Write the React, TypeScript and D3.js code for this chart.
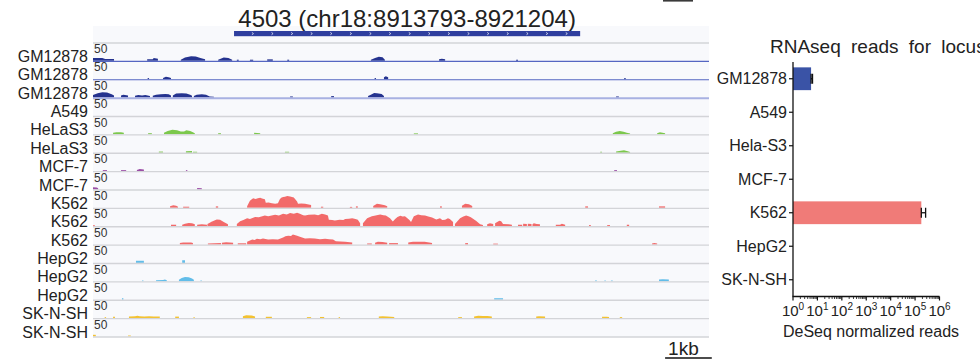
import React from "react";
import * as d3 from "d3";

type Pt = [number, number];
type Peak = Pt[];

// ---- genome browser window -------------------------------------------------
const windowStart = 8910773; // bp
const windowEnd = 8923963; // bp
const geneName = "4503";
const geneChrom = "chr18";
const geneStart = 8913793;
const geneEnd = 8921204;
const trackMax = 50;
const scaleBarKb = 1;
const scaleBarStartKb = 12.25;

// coverage peaks: [kb from window start, signal]
const gm12878Rep1: Peak[] = [
  [[0, 8], [0.2, 8], [0.26, 5], [0.45, 5]],
  [[1.16, 4], [1.28, 4], [1.3, 8], [1.39, 6]],
  [[1.88, 3], [1.97, 9], [2.05, 11], [2.1, 13], [2.2, 12], [2.3, 8], [2.4, 4]],
  [[2.68, 3], [2.8, 9], [2.9, 8], [2.98, 3]],
  [[3.08, 3], [3.12, 3]],
  [[3.36, 3], [3.43, 3]],
  [[3.73, 4], [3.85, 4]],
  [[4.16, 3], [4.2, 3]],
  [[5.95, 3], [6.04, 8], [6.12, 11], [6.2, 10], [6.25, 3]],
  [[7.41, 4], [7.47, 6], [7.54, 4]],
  [[9.06, 3], [9.1, 3]],
];
const gm12878Rep2: Peak[] = [
  [[1.17, 3], [1.2, 3]],
  [[1.5, 3], [1.56, 7], [1.62, 5], [1.67, 3]],
  [[6.03, 3], [6.06, 3]],
  [[6.23, 5], [6.27, 8], [6.32, 5]],
  [[11.37, 2.5], [11.41, 2.5]],
];
const gm12878Rep3: Peak[] = [
  [[0, 7], [0.1, 12], [0.2, 15], [0.3, 14], [0.4, 9], [0.45, 6]],
  [[0.6, 6], [0.65, 8], [0.75, 6]],
  [[0.9, 5], [0.97, 7], [1.05, 6], [1.12, 7], [1.22, 4]],
  [[1.28, 5], [1.35, 8], [1.45, 9], [1.55, 10], [1.62, 9], [1.67, 6]],
  [[1.71, 6], [1.78, 11], [1.9, 12], [2.0, 11], [2.08, 8], [2.12, 5]],
  [[2.16, 4], [2.22, 8], [2.33, 9.5], [2.42, 8], [2.5, 3], [2.59, 2]],
  [[4.22, 3], [4.28, 3]],
  [[5.1, 4], [5.16, 4]],
  [[5.89, 4], [5.95, 8], [6.02, 13], [6.08, 12], [6.18, 10], [6.23, 4]],
  [[11.2, 3], [11.26, 3]],
];
const a549Rep1: Peak[] = [];
const helaRep1: Peak[] = [
  [[0.43, 4], [0.5, 6], [0.6, 6], [0.66, 4]],
  [[1.18, 3], [1.26, 3]],
  [[1.52, 4], [1.6, 9], [1.7, 12.5], [1.8, 11], [1.88, 8], [1.95, 8], [2.0, 11], [2.08, 9], [2.14, 6], [2.18, 3]],
  [[2.68, 3], [2.74, 3]],
  [[3.45, 4], [3.58, 3]],
  [[6.87, 2.5], [6.96, 2.5]],
  [[11.13, 3], [11.2, 7], [11.28, 9], [11.36, 7], [11.43, 4], [11.5, 2]],
  [[12.08, 3], [12.14, 6], [12.25, 3]],
];
const helaRep2: Peak[] = [
  [[1.41, 3], [1.5, 3]],
  [[1.99, 4], [2.12, 4.5]],
  [[2.14, 2.5], [2.23, 2.5]],
  [[4.11, 2.5], [4.2, 2.5]],
  [[10.86, 2.5], [10.9, 2.5]],
  [[11.2, 3], [11.3, 5], [11.37, 6.5], [11.45, 4], [11.5, 2]],
];
const mcf7Rep1: Peak[] = [
  [[0.21, 2.5], [0.3, 2.5]],
  [[0.6, 2.5], [0.71, 2.5]],
  [[0.94, 3], [1.0, 5.5], [1.09, 4]],
  [[1.99, 2.5], [2.02, 2.5]],
  [[11.16, 2.5], [11.22, 2.5]],
];
const mcf7Rep2: Peak[] = [
  [[0, 6], [0.08, 5], [0.11, 3]],
  [[2.23, 4], [2.33, 3]],
];
const k562Rep1: Peak[] = [
  [[1.65, 4], [1.72, 7], [1.78, 6], [1.82, 3]],
  [[1.93, 3], [2.06, 3]],
  [[2.63, 4], [2.68, 4]],
  [[3.3, 4], [3.36, 20], [3.4, 24], [3.43, 27], [3.48, 25], [3.53, 27], [3.58, 28], [3.62, 26], [3.68, 24],
   [3.7, 14], [3.76, 15], [3.83, 13], [3.9, 11], [3.96, 13], [4.0, 24], [4.03, 28], [4.07, 30], [4.11, 31],
   [4.16, 33], [4.22, 32], [4.3, 29], [4.37, 18], [4.39, 11], [4.46, 12], [4.54, 11], [4.67, 8]],
  [[4.88, 3], [4.93, 3]],
  [[5.5, 2.5], [5.55, 2.5]],
  [[5.63, 4], [5.67, 4]],
  [[6.0, 5], [6.08, 11], [6.15, 10], [6.25, 7], [6.3, 4]],
  [[7.43, 4], [7.47, 4]],
  [[7.9, 6], [7.97, 11], [8.05, 10], [8.12, 5]],
  [[10.54, 4], [10.6, 4]],
  [[12.12, 4], [12.25, 4]],
];
const k562Rep2: Peak[] = [
  [[0, 2.5], [0.04, 2.5]],
  [[1.67, 4], [1.78, 4]],
  [[1.91, 4], [1.97, 7], [2.05, 9], [2.12, 8], [2.18, 5]],
  [[2.23, 4], [2.33, 5], [2.44, 4]],
  [[2.45, 6], [2.55, 13], [2.65, 19], [2.72, 18], [2.8, 12], [2.89, 5]],
  [[3.08, 6], [3.15, 14], [3.22, 17], [3.3, 22], [3.36, 20], [3.47, 26], [3.55, 25], [3.68, 30], [3.75, 28],
   [3.9, 32], [3.98, 30], [4.07, 35], [4.15, 33], [4.22, 37], [4.3, 35], [4.37, 38], [4.43, 35], [4.5, 31],
   [4.54, 30], [4.62, 32], [4.75, 33], [4.82, 31], [4.9, 35], [4.97, 33], [5.03, 30], [5.05, 18], [5.12, 17],
   [5.18, 16], [5.28, 18], [5.36, 17], [5.4, 20], [5.48, 21], [5.55, 22], [5.62, 20], [5.67, 18], [5.72, 8]],
  [[5.78, 8], [5.87, 22], [5.97, 28], [6.05, 30], [6.15, 33], [6.22, 31], [6.27, 30], [6.36, 22], [6.42, 13],
   [6.47, 20], [6.52, 26], [6.58, 29], [6.63, 27], [6.68, 28], [6.77, 18], [6.81, 12], [6.87, 28], [6.96, 33],
   [7.03, 31], [7.11, 30], [7.18, 27], [7.26, 24], [7.35, 19], [7.43, 22], [7.48, 17], [7.54, 18], [7.6, 22],
   [7.64, 20], [7.71, 12]],
  [[7.75, 6], [7.86, 22], [7.93, 27], [7.99, 30], [8.04, 28], [8.09, 25], [8.2, 15], [8.29, 5], [8.35, 3]],
  [[8.44, 5], [8.5, 8], [8.57, 6]],
  [[8.61, 8], [8.7, 15], [8.74, 14], [8.78, 6], [8.9, 5], [8.97, 4]],
  [[9.1, 4], [9.19, 4]],
  [[9.21, 7], [9.29, 6]],
  [[9.31, 7], [9.39, 6]],
  [[9.41, 5], [9.44, 8], [9.5, 6], [9.57, 5]],
  [[9.91, 4], [10.0, 4], [10.04, 7], [10.11, 4]],
  [[10.62, 3], [10.66, 3]],
  [[11.01, 3], [11.07, 3]],
  [[11.43, 4], [11.48, 4]],
];
const k562Rep3: Peak[] = [
  [[1.86, 4], [1.93, 6], [2.1, 6], [2.14, 4]],
  [[2.46, 3], [2.74, 4]],
  [[2.76, 5], [2.85, 6.5], [3.0, 5]],
  [[3.1, 3.5], [3.28, 3.5]],
  [[3.3, 8], [3.41, 14], [3.46, 13], [3.51, 16], [3.58, 15], [3.64, 17], [3.75, 14], [3.85, 15], [3.96, 14],
   [4.07, 20], [4.12, 23], [4.18, 25], [4.24, 24], [4.28, 28], [4.37, 25], [4.43, 22], [4.54, 17], [4.64, 18],
   [4.75, 17], [4.86, 15], [4.97, 16], [5.06, 15], [5.14, 14], [5.2, 9], [5.4, 8], [5.55, 6]],
  [[5.87, 3], [5.97, 3]],
  [[6.04, 5], [6.1, 7.5], [6.2, 7], [6.3, 5]],
  [[6.34, 4], [6.53, 4]],
  [[6.75, 6], [6.85, 8], [6.95, 7.5], [7.1, 8], [7.2, 6], [7.26, 4]],
  [[7.97, 4], [8.03, 4]],
  [[8.57, 2.5], [8.67, 2.5]],
  [[11.97, 3], [12.02, 4.5], [12.08, 3]],
];
const hepg2Rep1: Peak[] = [
  [[0.92, 6], [1.09, 6]],
  [[1.91, 7.5], [1.97, 7.5]],
];
const hepg2Rep2: Peak[] = [
  [[1.05, 2.5], [1.08, 2.5]],
  [[1.35, 3], [1.5, 3.5], [1.54, 5], [1.58, 3]],
  [[1.84, 4], [1.9, 9], [1.97, 12], [2.05, 11], [2.12, 8], [2.16, 4]],
  [[2.3, 2.5], [2.33, 2.5]],
  [[10.75, 2.5], [10.79, 2.5]],
  [[10.95, 2.5], [10.98, 2.5]],
  [[11.09, 2], [11.13, 2]],
  [[12.12, 5], [12.2, 6], [12.33, 5]],
];
const hepg2Rep3: Peak[] = [
  [[0.62, 4], [0.65, 4]],
  [[8.59, 4], [8.78, 4]],
];
const sknshRep1: Peak[] = [
  [[0.25, 2.5], [0.28, 2.5]],
  [[0.43, 3.5], [0.47, 3.5]],
  [[0.77, 4], [0.9, 5], [0.95, 6.5], [1.0, 5], [1.1, 4.5], [1.2, 5], [1.3, 4], [1.43, 4]],
  [[1.76, 4], [1.84, 4]],
  [[2.15, 2.5], [2.18, 2.5]],
  [[3.21, 5], [3.28, 7.5], [3.4, 7], [3.47, 4]],
  [[3.7, 3.5], [3.83, 3.5]],
  [[4.58, 2.5], [4.67, 2.5]],
  [[4.86, 3], [4.95, 3]],
  [[5.26, 2.5], [5.29, 2.5]],
  [[6.12, 4], [6.2, 5], [6.3, 4.5], [6.45, 3]],
  [[7.82, 2.5], [7.9, 2.5]],
  [[8.16, 4], [8.25, 6.5], [8.35, 6], [8.45, 6], [8.54, 4]],
  [[9.49, 4], [9.55, 5], [9.68, 4]],
  [[10.9, 3.5], [11.0, 3.5], [11.05, 3]],
  [[11.28, 2.5], [11.33, 2.5]],
];
const sknshRep2: Peak[] = [
  [[0, 4.5], [0.06, 4.5]],
  [[0.75, 2.5], [0.81, 2.5]],
];

const trackLabels = [
  "GM12878", "GM12878", "GM12878", "A549", "HeLaS3", "HeLaS3", "MCF-7", "MCF-7",
  "K562", "K562", "K562", "HepG2", "HepG2", "HepG2", "SK-N-SH", "SK-N-SH",
];
const trackData: Peak[][] = [
  gm12878Rep1, gm12878Rep2, gm12878Rep3, a549Rep1, helaRep1, helaRep2, mcf7Rep1, mcf7Rep2,
  k562Rep1, k562Rep2, k562Rep3, hepg2Rep1, hepg2Rep2, hepg2Rep3, sknshRep1, sknshRep2,
];

// ---- RNA-seq bar panel ------------------------------------------------------
const rnaCells = ["GM12878", "A549", "Hela-S3", "MCF-7", "K562", "HepG2", "SK-N-SH"];
const rnaMean = [5.5, 0, 0, 0, 180000, 0, 0];
const rnaSd = [0.8, 0, 0, 0, 90000, 0, 0];
const rnaTickExponents = [0, 1, 2, 3, 4, 5, 6];

const colorFor = (label: string): string => {
  if (label.startsWith("GM")) return "#25338f";
  if (label.startsWith("HeLa")) return "#7cc84c";
  if (label.startsWith("MCF")) return "#9b4ea6";
  if (label.startsWith("K562")) return "#f26a6a";
  if (label.startsWith("HepG2")) return "#62bde9";
  return "#f3c232";
};

const FONT = "'Liberation Sans', Arial, Helvetica, sans-serif";

export default function App() {
  // browser panel geometry
  const left = 93;
  const right = 709;
  const tracksTop = 43;
  const tracksBottom = 337;
  const trackH = (tracksBottom - tracksTop) / trackLabels.length;

  const windowKb = (windowEnd - windowStart) / 1000;
  const x = d3.scaleLinear().domain([0, windowKb]).range([left, right]);
  const toKb = (bp: number) => (bp - windowStart) / 1000;

  const gx0 = x(toKb(geneStart));
  const gx1 = x(toKb(geneEnd));
  const chevronStep = 0.42;
  const chevrons = d3.range(toKb(geneStart) + chevronStep * 0.95, toKb(geneEnd) - 0.1, chevronStep);

  // bar panel geometry
  const xr = d3.scaleLog().domain([1, 1e6]).range([793, 939.5]);
  const yr = d3.scaleBand<string>().domain(rnaCells).range([62, 296.5]).paddingInner(0.32).paddingOuter(0.16);
  const axisY = 296.5;
  const minorTicks: number[] = [];
  for (let k = 0; k < 6; k++) for (let m = 2; m <= 9; m++) minorTicks.push(m * Math.pow(10, k));

  return (
    <svg
      width={980}
      height={360}
      style={{ position: "fixed", left: 0, top: 0, background: "#ffffff" }}
      fontFamily={FONT}
    >
      {/* browser panel */}
      <rect x={left} y={26} width={right - left} height={tracksBottom - 26} fill="#f8f9fc" />
      <rect x={663} y={0} width={30} height={1.6} fill="#3a3a3a" />
      <text x={(gx0 + gx1) / 2} y={27} fontSize={24} textAnchor="middle" fill="#222">
        {`${geneName} (${geneChrom}:${geneStart}-${geneEnd})`}
      </text>
      <rect x={gx0} y={31} width={gx1 - gx0} height={5.2} fill="#2f3f9f" />
      {chevrons.map((c, i) => (
        <path
          key={i}
          d={`M${x(c) - 0.8},${32.4} L${x(c) + 0.8},${33.6} L${x(c) - 0.8},${34.8}`}
          stroke="#ffffff"
          strokeWidth={0.7}
          fill="none"
        />
      ))}
      <line x1={left} x2={right} y1={tracksTop} y2={tracksTop} stroke="#d3d4d8" strokeWidth={1.3} />

      {trackLabels.map((label, i) => {
        const top = tracksTop + i * trackH;
        const bottom = top + trackH;
        const y = d3.scaleLinear().domain([0, trackMax]).range([bottom - 0.6, top]);
        const area = d3
          .area<Pt>()
          .x((d) => x(d[0]))
          .y0(bottom - 0.6)
          .y1((d) => y(d[1]));
        const color = colorFor(label);
        const isGm = label.startsWith("GM");
        return (
          <g key={i}>
            <text x={88} y={bottom + 0.5} fontSize={16} textAnchor="end" fill="#222">
              {label}
            </text>
            <text x={94} y={top + 10} fontSize={12} fill="#333">
              {trackMax}
            </text>
            {trackData[i].map((peak, j) => {
              const pts: Pt[] = [[peak[0][0], 0], ...peak, [peak[peak.length - 1][0], 0]];
              return <path key={j} d={area(pts) || ""} fill={color} />;
            })}
            <line
              x1={left}
              x2={right}
              y1={bottom}
              y2={bottom}
              stroke={isGm ? (i === 2 ? "#a8b1e2" : "#5566c2") : "#d3d4d8"}
              strokeWidth={isGm ? (i === 2 ? 2 : 1.1) : 1.3}
            />
          </g>
        );
      })}

      {/* scale bar */}
      <line
        x1={x(scaleBarStartKb)}
        x2={x(scaleBarStartKb + scaleBarKb)}
        y1={358}
        y2={358}
        stroke="#111"
        strokeWidth={1.6}
      />
      <text x={x(scaleBarStartKb) + 3} y={355} fontSize={19} fill="#222">
        {`${scaleBarKb}kb`}
      </text>

      {/* RNA-seq panel */}
      <text x={770} y={53} fontSize={19} fill="#222" wordSpacing={5}>
        RNAseq reads for locus
      </text>
      {rnaCells.map((c, i) => {
        const yc = (yr(c) as number) + yr.bandwidth() / 2;
        const mean = rnaMean[i];
        const sd = rnaSd[i];
        return (
          <g key={c}>
            <text x={787} y={yc} fontSize={16} textAnchor="end" dominantBaseline="central" fill="#222">
              {c}
            </text>
            <line x1={789} x2={793} y1={yc} y2={yc} stroke="#111" strokeWidth={1.2} />
            {mean > 0 && (
              <>
                <rect
                  x={xr(1)}
                  y={yr(c) as number}
                  width={xr(mean) - xr(1)}
                  height={yr.bandwidth()}
                  fill={i === 0 ? "#3a53a6" : "#f07b78"}
                />
                <line x1={xr(mean)} x2={xr(mean + sd)} y1={yc} y2={yc} stroke="#111" strokeWidth={1.3} />
                <line x1={xr(mean)} x2={xr(mean)} y1={yc - 5} y2={yc + 5} stroke="#111" strokeWidth={1.3} />
                <line x1={xr(mean + sd)} x2={xr(mean + sd)} y1={yc - 5} y2={yc + 5} stroke="#111" strokeWidth={1.3} />
              </>
            )}
          </g>
        );
      })}
      <line x1={793} x2={793} y1={62} y2={axisY} stroke="#111" strokeWidth={1.3} />
      <line x1={792.4} x2={xr(1e6)} y1={axisY} y2={axisY} stroke="#111" strokeWidth={1.3} />
      {minorTicks.map((v, i) => (
        <line key={i} x1={xr(v)} x2={xr(v)} y1={axisY} y2={axisY + 2.5} stroke="#111" strokeWidth={0.8} />
      ))}
      {rnaTickExponents.map((k) => (
        <g key={k}>
          <line x1={xr(Math.pow(10, k))} x2={xr(Math.pow(10, k))} y1={axisY} y2={axisY + 4} stroke="#111" strokeWidth={1.2} />
          <text x={xr(Math.pow(10, k))} y={316} fontSize={15} textAnchor="middle" fill="#222">
            10
            <tspan dy={-6} fontSize={10}>
              {k}
            </tspan>
          </text>
        </g>
      ))}
      <text x={871} y={337} fontSize={16} textAnchor="middle" fill="#222">
        DeSeq normalized reads
      </text>
    </svg>
  );
}
